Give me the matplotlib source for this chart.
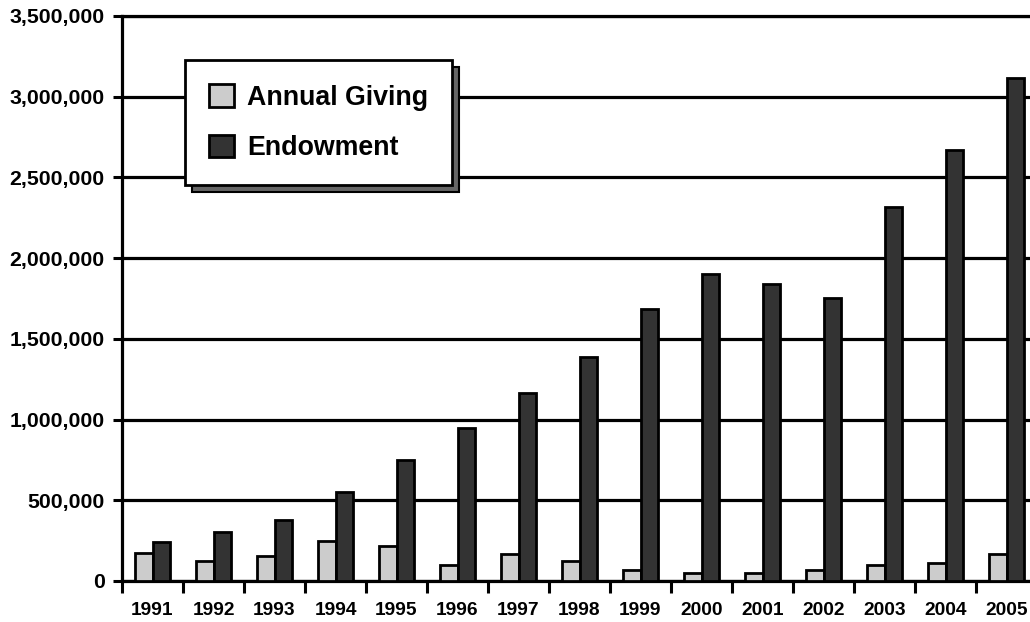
import numpy as np
import matplotlib
matplotlib.use("Agg")
from matplotlib import pyplot as plt
from matplotlib.patches import Rectangle
from matplotlib.ticker import FuncFormatter

plt.rcParams['font.family'] = ['Liberation Sans', 'DejaVu Sans']
plt.rcParams['font.weight'] = 'bold'

# datos
years = ['1991', '1992', '1993', '1994', '1995', '1996', '1997', '1998',
         '1999', '2000', '2001', '2002', '2003', '2004', '2005']
annual_giving = [174000, 122000, 155000, 248000, 217000, 97000, 168000, 124000,
                 68000, 48000, 48000, 68000, 97000, 110000, 166000]
endowment = [242000, 302000, 377000, 550000, 751000, 950000, 1167000, 1390000,
             1686000, 1903000, 1841000, 1754000, 2314000, 2671000, 3116000]
y_ticks = [0, 500000, 1000000, 1500000, 2000000, 2500000, 3000000, 3500000]

W, H = 1030, 622
fig = plt.figure(figsize=(W / 100, H / 100), dpi=100)
# el eje derecho queda fuera de la imagen, como en el original
ax = fig.add_axes([122 / W, (H - 581) / H, 915 / W, 565 / H])

x = np.arange(len(years))
bw = 0.29
ax.bar(x - bw / 2, annual_giving, bw, color='#cccccc', edgecolor='black',
       linewidth=2.0, label='Annual Giving', zorder=3)
ax.bar(x + bw / 2, endowment, bw, color='#333333', edgecolor='black',
       linewidth=2.0, label='Endowment', zorder=3)

ax.set_xlim(-0.5, len(years) - 0.5)
ax.set_ylim(0, 3500000)

ax.set_yticks(y_ticks)
ax.yaxis.set_major_formatter(FuncFormatter(lambda v, p: f'{int(v):,}'))
ax.tick_params(axis='y', direction='out', length=6.5, width=2.2, pad=6,
               labelsize=15.3)
ax.grid(axis='y', color='black', linewidth=2.3)
ax.set_axisbelow(True)

# marcas del eje x entre grupos, etiquetas centradas
ax.set_xticks(np.arange(-0.5, len(years), 1.0))
ax.set_xticklabels([])
ax.set_xticks(x, minor=True)
ax.set_xticklabels(years, minor=True)
ax.tick_params(axis='x', which='major', direction='out', length=8.5, width=2.2)
ax.tick_params(axis='x', which='minor', length=0, pad=15, labelsize=13.8)

for s in ax.spines.values():
    s.set_linewidth(2.3)
    s.set_color('black')

leg = ax.legend(loc='upper left', bbox_to_anchor=(63 / 915, 1 - 44 / 565),
                borderaxespad=0, fontsize=19.3, frameon=True, fancybox=False,
                handlelength=0.92, handleheight=0.92, handletextpad=0.5,
                labelspacing=0.9, borderpad=0.9)
frame = leg.get_frame()
frame.set_edgecolor('black')
frame.set_linewidth(2.0)
frame.set_alpha(1)
for h in leg.legend_handles:
    h.set_linewidth(2.0)

# sombra de la leyenda
fig.canvas.draw()
bb = frame.get_window_extent().transformed(ax.transAxes.inverted())
dx = 7 / 915
dy = 7 / 565
shadow = Rectangle((bb.x0 + dx, bb.y0 - dy), bb.width, bb.height,
                   transform=ax.transAxes, facecolor='#666666',
                   edgecolor='black', linewidth=1.5, zorder=4.9, clip_on=False)
ax.add_patch(shadow)

plt.savefig('out.png', dpi=100)
